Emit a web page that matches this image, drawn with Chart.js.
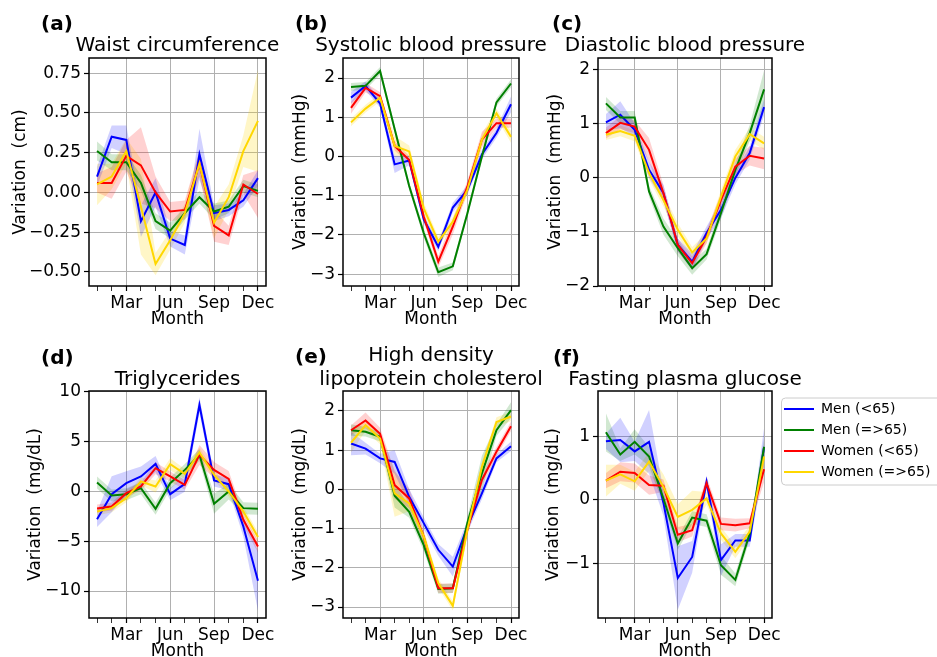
<!DOCTYPE html>
<html>
<head>
<meta charset="utf-8">
<script src="https://cdn.jsdelivr.net/npm/chart.js@4.4.1/dist/chart.umd.min.js"></script>
<style>
  html, body { margin: 0; padding: 0; background: #fff; overflow: hidden; }
  body { width: 937px; height: 657px; position: relative; }
  canvas { position: absolute; }
</style>
</head>
<body>
<canvas id="pa" width="282" height="330" style="left:8px;top:0px"></canvas>
<canvas id="pb" width="272" height="330" style="left:288px;top:0px"></canvas>
<canvas id="pc" width="267" height="330" style="left:543px;top:0px"></canvas>
<canvas id="pd" width="267" height="332" style="left:23px;top:330px"></canvas>
<canvas id="pe" width="272" height="332" style="left:288px;top:330px"></canvas>
<canvas id="pf" width="396" height="332" style="left:541px;top:330px"></canvas>
<script>
const months = [1, 2, 3, 4, 5, 6, 7, 8, 9, 10, 11, 12];
const monthTicks = [3, 6, 9, 12];
const monthLabels = ['Mar', 'Jun', 'Sep', 'Dec'];
const groups = ['Men (<65)', 'Men (=>65)', 'Women (<65)', 'Women (=>65)'];

// (a) waist circumference, cm
const waistMenU65 = [0.10, 0.35, 0.33, -0.18, 0.00, -0.29, -0.33, 0.24, -0.13, -0.11, -0.05, 0.09];
const waistMenO65 = [0.26, 0.19, 0.19, 0.06, -0.18, -0.24, -0.13, -0.03, -0.12, -0.09, 0.04, 0.01];
const waistWomenU65 = [0.06, 0.06, 0.23, 0.17, 0.00, -0.12, -0.11, 0.18, -0.21, -0.27, 0.05, -0.01];
const waistWomenO65 = [0.05, 0.10, 0.26, -0.09, -0.45, -0.30, -0.13, 0.18, -0.19, -0.03, 0.26, 0.45];
const waistErrMenU65 = [0.06, 0.07, 0.09, 0.10, 0.09, 0.05, 0.06, 0.16, 0.05, 0.04, 0.04, 0.05];
const waistErrMenO65 = [0.06, 0.05, 0.05, 0.05, 0.05, 0.05, 0.04, 0.04, 0.05, 0.04, 0.04, 0.04];
const waistErrWomenU65 = [0.06, 0.10, 0.10, 0.24, 0.10, 0.06, 0.06, 0.08, 0.10, 0.06, 0.06, 0.15];
const waistErrWomenO65 = [0.13, 0.08, 0.08, 0.30, 0.07, 0.06, 0.06, 0.08, 0.10, 0.08, 0.10, 0.32];
const waistTicks = [-0.5, -0.25, 0, 0.25, 0.5, 0.75];

// (b) systolic blood pressure, mmHg
const sbpMenU65 = [1.50, 1.80, 1.35, -0.20, -0.10, -1.60, -2.30, -1.30, -0.85, 0.05, 0.60, 1.33];
const sbpMenO65 = [1.77, 1.80, 2.18, 0.70, -0.75, -1.95, -2.95, -2.80, -1.45, 0.00, 1.38, 1.86];
const sbpWomenU65 = [1.24, 1.75, 1.54, 0.27, -0.09, -1.53, -2.68, -1.79, -0.77, 0.43, 0.85, 0.85];
const sbpWomenO65 = [0.87, 1.22, 1.50, 0.27, 0.13, -1.32, -2.17, -1.66, -0.85, 0.43, 1.10, 0.50];
const sbpErrMenU65 = [0.15, 0.12, 0.10, 0.22, 0.12, 0.10, 0.12, 0.12, 0.12, 0.12, 0.12, 0.20];
const sbpErrMenO65 = [0.10, 0.10, 0.10, 0.10, 0.10, 0.12, 0.12, 0.10, 0.10, 0.10, 0.10, 0.10];
const sbpErrWomenU65 = [0.15, 0.12, 0.10, 0.12, 0.10, 0.12, 0.15, 0.20, 0.15, 0.20, 0.12, 0.12];
const sbpErrWomenO65 = [0.10, 0.10, 0.10, 0.25, 0.15, 0.15, 0.12, 0.12, 0.15, 0.15, 0.12, 0.15];
const sbpTicks = [-3, -2, -1, 0, 1, 2];

// (c) diastolic blood pressure, mmHg
const dbpMenU65 = [1.03, 1.17, 0.89, 0.15, -0.28, -1.24, -1.55, -1.02, -0.59, 0.00, 0.46, 1.31];
const dbpMenO65 = [1.38, 1.12, 1.12, -0.25, -0.90, -1.30, -1.67, -1.41, -0.65, 0.15, 0.83, 1.64];
const dbpWomenU65 = [0.83, 1.02, 0.95, 0.52, -0.28, -1.24, -1.58, -1.09, -0.41, 0.21, 0.41, 0.36];
const dbpWomenO65 = [0.80, 0.87, 0.78, 0.09, -0.41, -0.96, -1.38, -1.12, -0.35, 0.40, 0.81, 0.64];
const dbpErrMenU65 = [0.15, 0.25, 0.12, 0.15, 0.15, 0.12, 0.15, 0.12, 0.15, 0.12, 0.12, 0.15];
const dbpErrMenO65 = [0.12, 0.12, 0.12, 0.10, 0.15, 0.15, 0.12, 0.10, 0.12, 0.12, 0.15, 0.35];
const dbpErrWomenU65 = [0.10, 0.12, 0.12, 0.22, 0.15, 0.12, 0.12, 0.12, 0.12, 0.15, 0.18, 0.20];
const dbpErrWomenO65 = [0.10, 0.10, 0.10, 0.12, 0.12, 0.12, 0.10, 0.10, 0.12, 0.12, 0.12, 0.12];
const dbpTicks = [-2, -1, 0, 1, 2];

// (d) triglycerides, mg/dL
const tgMenU65 = [-2.8, -0.3, 0.8, 1.47, 2.73, -0.3, 0.73, 8.63, 1.07, 0.7, -3.53, -8.97];
const tgMenO65 = [0.87, -0.43, -0.3, 0.3, -1.77, 0.8, 2.13, 3.63, -1.27, -0.03, -1.7, -1.77];
const tgWomenU65 = [-1.73, -1.53, -0.2, 0.47, 2.3, 1.47, 0.63, 3.63, 2.13, 1.23, -2.87, -5.53];
const tgWomenO65 = [-2.03, -1.7, -0.7, 0.97, 0.47, 2.7, 1.73, 3.87, 1.63, -0.03, -2.03, -4.6];
const tgErrMenU65 = [0.8, 1.8, 1.2, 1.0, 0.8, 0.6, 0.8, 0.8, 0.6, 0.6, 1.0, 3.0];
const tgErrMenO65 = [0.6, 0.6, 0.6, 0.6, 0.6, 0.6, 0.6, 0.6, 1.0, 0.8, 0.6, 0.6];
const tgErrWomenU65 = [0.4, 0.4, 0.4, 0.4, 0.6, 0.5, 0.5, 1.0, 0.8, 0.8, 0.6, 0.6];
const tgErrWomenO65 = [0.4, 0.4, 0.4, 0.4, 0.6, 0.6, 0.5, 0.5, 0.5, 0.5, 0.5, 0.5];
const tgTicks = [-10, -5, 0, 5, 10];

// (e) HDL cholesterol, mg/dL
const hdlMenU65 = [1.17, 1.04, 0.79, 0.70, -0.19, -0.86, -1.54, -1.97, -0.95, -0.10, 0.79, 1.10];
const hdlMenO65 = [1.51, 1.47, 1.34, -0.16, -0.57, -1.42, -2.54, -2.52, -0.86, 0.41, 1.51, 2.02];
const hdlWomenU65 = [1.51, 1.76, 1.42, 0.11, -0.23, -1.20, -2.52, -2.52, -1.03, 0.24, 0.96, 1.61];
const hdlWomenO65 = [1.19, 1.64, 1.30, -0.10, -0.36, -1.20, -2.39, -2.97, -1.03, 0.58, 1.72, 1.86];
const hdlErrMenU65 = [0.30, 0.15, 0.12, 0.30, 0.20, 0.15, 0.15, 0.25, 0.15, 0.15, 0.10, 0.12];
const hdlErrMenO65 = [0.15, 0.12, 0.12, 0.30, 0.15, 0.15, 0.12, 0.12, 0.15, 0.45, 0.15, 0.20];
const hdlErrWomenU65 = [0.12, 0.20, 0.15, 0.35, 0.25, 0.15, 0.12, 0.12, 0.15, 0.15, 0.12, 0.12];
const hdlErrWomenO65 = [0.25, 0.15, 0.15, 0.60, 0.20, 0.15, 0.12, 0.12, 0.15, 0.12, 0.12, 0.12];
const hdlTicks = [-3, -2, -1, 0, 1, 2];

// (f) fasting plasma glucose, mg/dL
const fpgMenU65 = [0.92, 0.94, 0.76, 0.91, -0.05, -1.23, -0.90, 0.28, -0.95, -0.64, -0.64, 0.83];
const fpgMenO65 = [1.06, 0.71, 0.91, 0.68, 0.02, -0.69, -0.28, -0.33, -1.03, -1.26, -0.53, 0.83];
const fpgWomenU65 = [0.30, 0.44, 0.42, 0.23, 0.22, -0.55, -0.48, 0.26, -0.38, -0.40, -0.37, 0.48];
const fpgWomenO65 = [0.30, 0.40, 0.29, 0.60, 0.20, -0.27, -0.16, 0.02, -0.53, -0.82, -0.50, 0.68];
const fpgErrMenU65 = [0.12, 0.35, 0.15, 0.50, 0.20, 0.50, 0.25, 0.10, 0.25, 0.10, 0.10, 0.30];
const fpgErrMenO65 = [0.30, 0.10, 0.20, 0.15, 0.10, 0.10, 0.10, 0.10, 0.15, 0.10, 0.10, 0.15];
const fpgErrWomenU65 = [0.12, 0.15, 0.15, 0.15, 0.10, 0.12, 0.10, 0.10, 0.10, 0.10, 0.08, 0.20];
const fpgErrWomenO65 = [0.25, 0.15, 0.15, 0.15, 0.20, 0.20, 0.30, 0.10, 0.10, 0.10, 0.10, 0.20];
const fpgTicks = [-1, 0, 1];

const FONT = "'DejaVu Sans', sans-serif";
Chart.defaults.font.family = FONT;
Chart.defaults.color = '#000';

const lineColors = ['#0000ff', '#008000', '#ff0000', '#ffd700'];
const bandColors = ['rgba(0,0,255,0.18)', 'rgba(0,128,0,0.18)', 'rgba(255,0,0,0.18)', 'rgba(255,215,0,0.22)'];

const panels = [
  { id: 'pa', tag: '(a)', title: ['Waist circumference'], ylabel: 'Variation  (cm)',
    series: [waistMenU65, waistMenO65, waistWomenU65, waistWomenO65],
    errs: [waistErrMenU65, waistErrMenO65, waistErrWomenU65, waistErrWomenO65],
    yMin: -0.588, yMax: 0.845, yTicks: waistTicks, dec: 2,
    yw: 81, padTop: 58, padRight: 24, tagX: 33, tagY: 25, titleY: 46 },
  { id: 'pb', tag: '(b)', title: ['Systolic blood pressure'], ylabel: 'Variation  (mmHg)',
    series: [sbpMenU65, sbpMenO65, sbpWomenU65, sbpWomenO65],
    errs: [sbpErrMenU65, sbpErrMenO65, sbpErrWomenU65, sbpErrWomenO65],
    yMin: -3.30, yMax: 2.51, yTicks: sbpTicks, dec: 0,
    yw: 55, padTop: 58, padRight: 41, tagX: 7, tagY: 25, titleY: 46 },
  { id: 'pc', tag: '(c)', title: ['Diastolic blood pressure'], ylabel: 'Variation  (mmHg)',
    series: [dbpMenU65, dbpMenO65, dbpWomenU65, dbpWomenO65],
    errs: [dbpErrMenU65, dbpErrMenO65, dbpErrWomenU65, dbpErrWomenO65],
    yMin: -2.0, yMax: 2.22, yTicks: dbpTicks, dec: 0,
    yw: 55, padTop: 58, padRight: 38, tagX: 9, tagY: 25, titleY: 46 },
  { id: 'pd', tag: '(d)', title: ['Triglycerides'], ylabel: 'Variation  (mg/dL)',
    series: [tgMenU65, tgMenO65, tgWomenU65, tgWomenO65],
    errs: [tgErrMenU65, tgErrMenO65, tgErrWomenU65, tgErrWomenO65],
    yMin: -12.7, yMax: 10.03, yTicks: tgTicks, dec: 0,
    yw: 66, padTop: 61, padRight: 24, tagX: 18, tagY: 29, titleY: 50 },
  { id: 'pe', tag: '(e)', title: ['High density', 'lipoprotein cholesterol'], ylabel: 'Variation  (mg/dL)',
    series: [hdlMenU65, hdlMenO65, hdlWomenU65, hdlWomenO65],
    errs: [hdlErrMenU65, hdlErrMenO65, hdlErrWomenU65, hdlErrWomenO65],
    yMin: -3.28, yMax: 2.51, yTicks: hdlTicks, dec: 0,
    yw: 55, padTop: 61, padRight: 41, tagX: 7, tagY: 28, titleY: 26 },
  { id: 'pf', tag: '(f)', title: ['Fasting plasma glucose'], ylabel: 'Variation  (mg/dL)',
    series: [fpgMenU65, fpgMenO65, fpgWomenU65, fpgWomenO65],
    errs: [fpgErrMenU65, fpgErrMenO65, fpgErrWomenU65, fpgErrWomenO65],
    yMin: -1.86, yMax: 1.71, yTicks: fpgTicks, dec: 0,
    yw: 57, padTop: 61, padRight: 65, tagX: 12, tagY: 29, titleY: 50, legend: true },
];

const fmt = (v, dec) => v.toFixed(dec).replace('-', '\u2212');

// frame, panel letter, title and legend box
const panelDecor = {
  id: 'panelDecor',
  afterLayout(chart) {
    const lg = chart.legend;
    if (!lg || !lg.options.display) return;
    const a = chart.chartArea;
    lg.left = a.right + 5;
    lg.right = chart.width + 20;
    lg.top = a.top + 4;
    lg.bottom = a.bottom;
  },
  afterDatasetsDraw(chart) {
    const { ctx, chartArea: a } = chart;
    ctx.save();
    ctx.strokeStyle = '#000';
    ctx.lineWidth = 1.5;
    ctx.strokeRect(a.left, a.top, a.right - a.left, a.bottom - a.top);
    ctx.restore();
  },
  afterDraw(chart, args, opts) {
    const { ctx, chartArea: a } = chart;
    ctx.save();
    ctx.fillStyle = '#000';
    ctx.textBaseline = 'middle';
    ctx.textAlign = 'left';
    ctx.font = 'bold 20px ' + FONT;
    ctx.fillText(opts.tag, opts.tagX, opts.tagY);
    ctx.font = '20px ' + FONT;
    ctx.textAlign = 'center';
    const cx = (a.left + a.right) / 2;
    opts.title.forEach((t, i) => ctx.fillText(t, cx, opts.titleY + i * 24));
    const lg = chart.legend;
    if (lg && lg.options.display) {
      ctx.strokeStyle = '#cccccc';
      ctx.lineWidth = 1;
      ctx.beginPath();
      ctx.roundRect(lg.left + 4.5, lg.top + 3, 200, 87, 4);
      ctx.stroke();
    }
    ctx.restore();
  }
};

panels.forEach(p => {
  const lines = p.series.map((vals, k) => ({
    label: groups[k],
    data: months.map((m, i) => ({ x: m, y: vals[i] })),
    borderColor: lineColors[k],
    backgroundColor: lineColors[k],
    borderWidth: 2,
    pointRadius: 0,
    tension: 0,
    fill: false,
    order: 4 - k
  }));
  const bands = [];
  p.series.forEach((vals, k) => {
    const err = p.errs[k];
    bands.push({
      label: groups[k] + ' lo',
      data: months.map((m, i) => ({ x: m, y: vals[i] - err[i] })),
      borderColor: 'transparent', borderWidth: 0, pointRadius: 0, tension: 0,
      fill: false, order: 10
    });
    bands.push({
      label: groups[k] + ' hi',
      data: months.map((m, i) => ({ x: m, y: vals[i] + err[i] })),
      borderColor: 'transparent', borderWidth: 0, pointRadius: 0, tension: 0,
      backgroundColor: bandColors[k], fill: '-1', order: 10
    });
  });

  new Chart(document.getElementById(p.id), {
    type: 'line',
    data: { datasets: lines.concat(bands) },
    options: {
      responsive: false,
      animation: false,
      events: [],
      devicePixelRatio: 1,
      layout: { padding: { top: p.padTop, right: p.padRight, left: 0, bottom: 0 } },
      plugins: {
        tooltip: { enabled: false },
        legend: p.legend ? {
          display: true, position: 'right', align: 'start', maxWidth: 100,
          labels: {
            usePointStyle: true, pointStyle: 'line', pointStyleWidth: 30,
            padding: 7, color: '#000', font: { size: 14 },
            filter: it => it.datasetIndex < 4,
            sort: (a, b) => a.datasetIndex - b.datasetIndex
          }
        } : { display: false },
        panelDecor: { tag: p.tag, tagX: p.tagX, tagY: p.tagY, title: p.title, titleY: p.titleY }
      },
      scales: {
        x: {
          type: 'linear', min: 0.45, max: 12.55,
          afterBuildTicks: s => { s.ticks = months.map(v => ({ value: v })); },
          afterFit: s => { s.height = 44; },
          ticks: {
            autoSkip: false, maxRotation: 0, minRotation: 0, padding: 2,
            font: { size: 17 }, color: '#000',
            callback: v => { const i = monthTicks.indexOf(v); return i >= 0 ? monthLabels[i] : ''; }
          },
          grid: {
            color: c => (c.tick && monthTicks.includes(c.tick.value)) ? '#b0b0b0' : 'rgba(0,0,0,0)',
            tickColor: '#000', tickLength: 5, lineWidth: 1,
            tickWidth: c => (c.tick && monthTicks.includes(c.tick.value)) ? 1.2 : 0.8
          },
          border: { display: false },
          title: { display: true, text: 'Month', font: { size: 17 }, color: '#000', padding: { top: 0, bottom: 0 } }
        },
        y: {
          type: 'linear', min: p.yMin, max: p.yMax,
          afterBuildTicks: s => { s.ticks = p.yTicks.map(v => ({ value: v })); },
          afterFit: s => { s.width = p.yw; },
          ticks: { padding: 3, font: { size: 17 }, color: '#000', callback: v => fmt(v, p.dec) },
          grid: { color: '#b0b0b0', lineWidth: 1, tickColor: '#000', tickLength: 5, tickWidth: 1.2 },
          border: { display: false },
          title: { display: true, text: p.ylabel, font: { size: 17 }, color: '#000', padding: { top: 2, bottom: 0 } }
        }
      }
    },
    plugins: [panelDecor]
  });
});
</script>
</body>
</html>
